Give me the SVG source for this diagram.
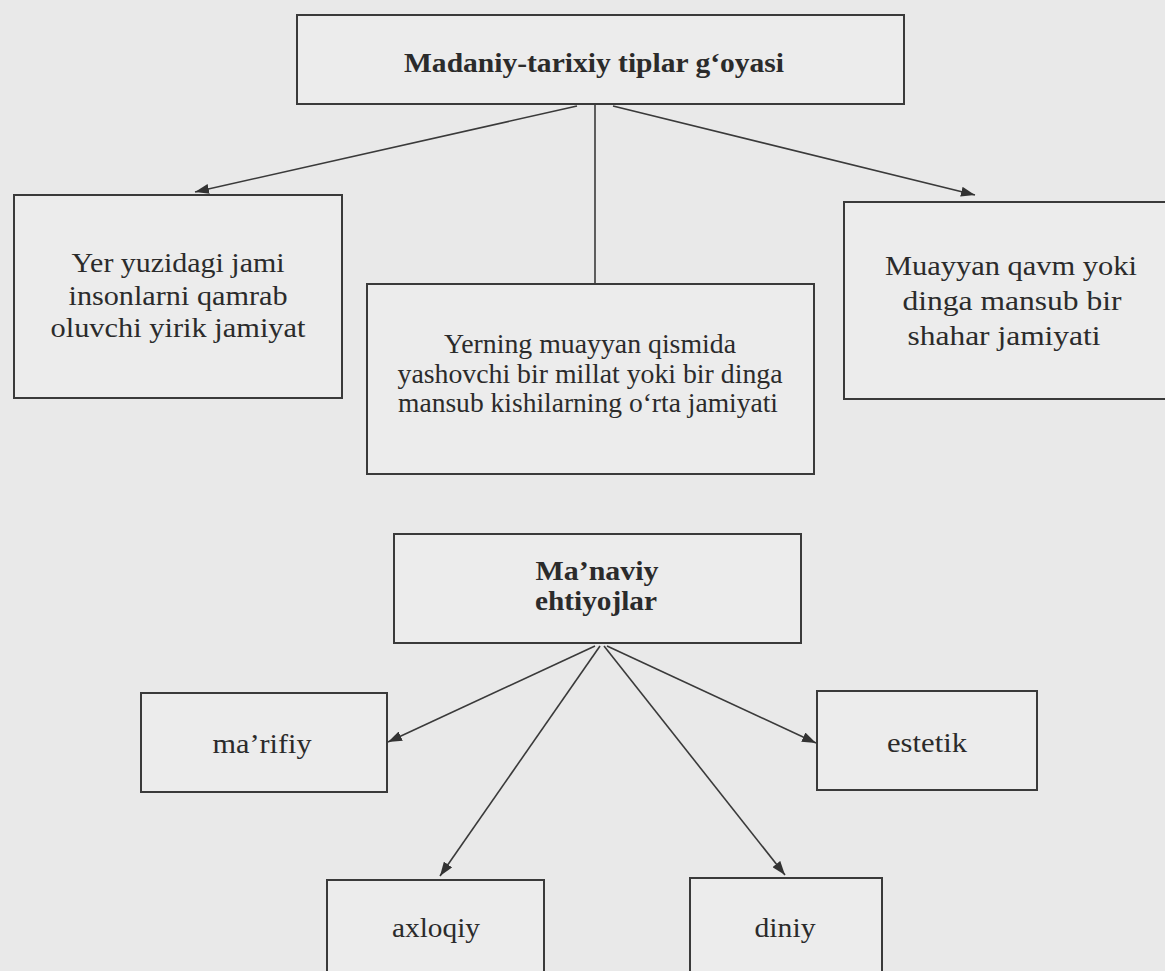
<svg xmlns="http://www.w3.org/2000/svg" width="1165" height="971" viewBox="0 0 1165 971">
<style>
.bg{fill:#e9e9e9}
.box{fill:#ececec;stroke:#3a3a3a;stroke-width:2}
.t{font-family:"Liberation Serif","Times New Roman",serif;fill:#2b2b2b;text-anchor:middle;font-size:27px}
.b{font-weight:bold}
.c{stroke:#3a3a3a;stroke-width:1.6;fill:none}
</style>
<defs>
<marker id="ah" viewBox="0 0 14 10" refX="14" refY="5" markerWidth="14" markerHeight="10" markerUnits="userSpaceOnUse" orient="auto">
<path d="M0,0 L14,5 L0,10 Z" fill="#333"/>
</marker>
</defs>
<rect class="bg" x="0" y="0" width="1165" height="971"/>
<g id="connectors">
<line class="c" x1="577" y1="106" x2="195" y2="192" marker-end="url(#ah)"/>
<line class="c" x1="595" y1="104" x2="595" y2="284"/>
<line class="c" x1="613" y1="106" x2="975" y2="195" marker-end="url(#ah)"/>
<line class="c" x1="595" y1="646" x2="388" y2="742" marker-end="url(#ah)"/>
<line class="c" x1="600" y1="646" x2="440" y2="876" marker-end="url(#ah)"/>
<line class="c" x1="604" y1="646" x2="785" y2="875" marker-end="url(#ah)"/>
<line class="c" x1="607" y1="646" x2="816" y2="743" marker-end="url(#ah)"/>
</g>
<g id="node-top">
<rect class="box" x="297" y="15" width="607" height="89"/>
<text class="t b" x="594" y="72" font-size="28" textLength="380" lengthAdjust="spacingAndGlyphs">Madaniy-tarixiy tiplar g‘oyasi</text>
</g>
<g id="node-left">
<rect class="box" x="14" y="195" width="328" height="203"/>
<text class="t" x="178" y="272" textLength="213" lengthAdjust="spacingAndGlyphs">Yer yuzidagi jami</text>
<text class="t" x="178" y="305" textLength="219" lengthAdjust="spacingAndGlyphs">insonlarni qamrab</text>
<text class="t" x="178" y="337" textLength="255" lengthAdjust="spacingAndGlyphs">oluvchi yirik jamiyat</text>
</g>
<g id="node-middle">
<rect class="box" x="367" y="284" width="447" height="190"/>
<text class="t" x="590" y="353" textLength="292" lengthAdjust="spacingAndGlyphs">Yerning muayyan qismida</text>
<text class="t" x="590" y="383" textLength="385" lengthAdjust="spacingAndGlyphs">yashovchi bir millat yoki bir dinga</text>
<text class="t" x="588" y="412" textLength="380" lengthAdjust="spacingAndGlyphs">mansub kishilarning o‘rta jamiyati</text>
</g>
<g id="node-right">
<rect class="box" x="844" y="202" width="331" height="197"/>
<text class="t" x="1011" y="275" textLength="252" lengthAdjust="spacingAndGlyphs">Muayyan qavm yoki</text>
<text class="t" x="1012" y="310" textLength="219" lengthAdjust="spacingAndGlyphs">dinga mansub bir</text>
<text class="t" x="1004" y="345" textLength="193" lengthAdjust="spacingAndGlyphs">shahar jamiyati</text>
</g>
<g id="node-manaviy">
<rect class="box" x="394" y="534" width="407" height="109"/>
<text class="t b" x="597" y="580" font-size="25" textLength="123" lengthAdjust="spacingAndGlyphs">Ma’naviy</text>
<text class="t b" x="596" y="610" font-size="25" textLength="122" lengthAdjust="spacingAndGlyphs">ehtiyojlar</text>
</g>
<g id="node-marifiy">
<rect class="box" x="141" y="693" width="246" height="99"/>
<text class="t" x="262" y="753" textLength="99" lengthAdjust="spacingAndGlyphs">ma’rifiy</text>
</g>
<g id="node-estetik">
<rect class="box" x="817" y="691" width="220" height="99"/>
<text class="t" x="927" y="752" textLength="80" lengthAdjust="spacingAndGlyphs">estetik</text>
</g>
<g id="node-axloqiy">
<rect class="box" x="327" y="880" width="217" height="110"/>
<text class="t" x="436" y="937" textLength="88" lengthAdjust="spacingAndGlyphs">axloqiy</text>
</g>
<g id="node-diniy">
<rect class="box" x="690" y="878" width="192" height="112"/>
<text class="t" x="785" y="937" textLength="61" lengthAdjust="spacingAndGlyphs">diniy</text>
</g>
</svg>
